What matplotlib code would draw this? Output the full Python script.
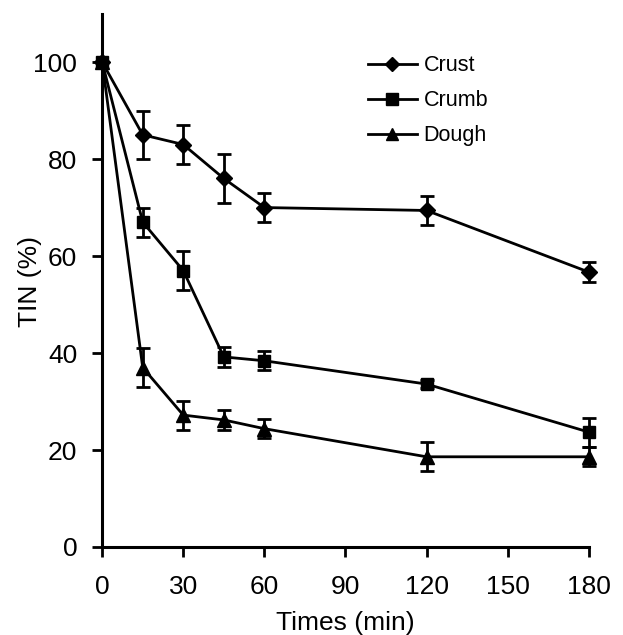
import matplotlib
matplotlib.use("Agg")
import matplotlib.pyplot as plt
from matplotlib.lines import Line2D

times = [0, 15, 30, 45, 60, 120, 180]
crust = [100, 85, 83, 76, 70, 69.4, 56.7]
crust_err = [0, 5, 4, 5, 3, 3, 2]
crumb = [100, 67, 57, 39.2, 38.4, 33.6, 23.7]
crumb_err = [0, 3, 4, 2, 2, 0.8, 3]
dough = [100, 37, 27.2, 26.2, 24.4, 18.6, 18.6]
dough_err = [0, 4, 3, 2, 2, 3, 2]
xticks = [0, 30, 60, 90, 120, 150, 180]
yticks = [0, 20, 40, 60, 80, 100]

plt.rcParams['font.family'] = ['Liberation Sans', 'DejaVu Sans']

fig = plt.figure(figsize=(6.23, 6.35), dpi=100)
ax = fig.add_axes([0.164, 0.1386, 0.781, 0.840])

lw = 2.0
series = [(crust, crust_err, 'D', 8, 'Crust'),
          (crumb, crumb_err, 's', 9, 'Crumb'),
          (dough, dough_err, '^', 10, 'Dough')]
for vals, err, m, ms, lab in series:
    ax.errorbar(times, vals, yerr=err, color='black', marker=m, markersize=ms,
                linewidth=lw, elinewidth=lw, capsize=5, capthick=lw,
                label=lab, clip_on=False, zorder=3)

ax.set_xlim(0, 180)
ax.set_ylim(0, 110)
ax.set_xticks(xticks)
ax.set_yticks(yticks)
for s in ['top', 'right']:
    ax.spines[s].set_visible(False)
for s in ['left', 'bottom']:
    ax.spines[s].set_linewidth(2.2)
ax.tick_params(direction='out', length=7, width=2, labelsize=19)
ax.tick_params(axis='x', pad=13)
ax.tick_params(axis='y', pad=11)
ax.set_xlabel('Times (min)', fontsize=19, labelpad=9)
ax.set_ylabel('TIN (%)', fontsize=19)
ax.yaxis.set_label_coords(-0.123, 0.497)

leg_handles = [Line2D([0], [0], color='black', lw=lw, marker=m, markersize=ms - 1)
               for _, _, m, ms, _ in series]
ax.legend(leg_handles, [s[4] for s in series], loc='upper left',
          bbox_to_anchor=(0.566, 0.937), bbox_transform=fig.transFigure,
          frameon=False, fontsize=15.5, handlelength=2.3, handletextpad=0.3,
          labelspacing=0.65, borderpad=0.2)

fig.savefig('out.png', dpi=100)
